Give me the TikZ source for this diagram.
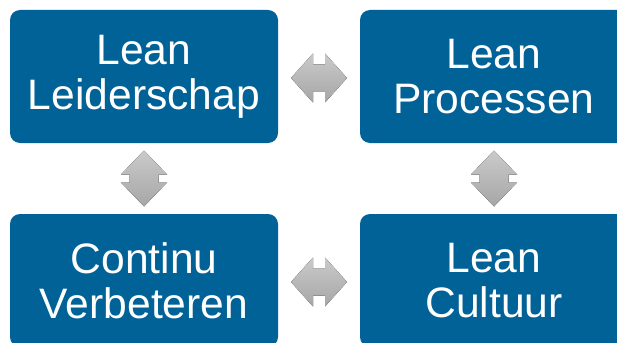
\documentclass[tikz,border=0pt]{standalone}
\usepackage{fontspec}
\setmainfont{Liberation Sans}
\usetikzlibrary{calc}
\definecolor{boxblue}{RGB}{0,98,151}
\definecolor{arrtop}{RGB}{202,202,202}
\definecolor{arrbot}{RGB}{166,166,166}
\tikzset{
  box/.style={rectangle, rounded corners=10pt, fill=boxblue, text=white,
    minimum width=268pt, minimum height=133pt, inner sep=0pt, align=center,
    font=\fontsize{42.6pt}{45pt}\selectfont},
  grayarrow/.style={top color=arrtop, bottom color=arrbot, draw=none}
}
\begin{document}
\begin{tikzpicture}[x=1pt,y=-1pt]
\useasboundingbox (0,0) rectangle (617,342);
\clip (0,0) rectangle (617,342);
\node[box] (ll) at (144,76.5) {Lean\\Leiderschap};
\node[box] (lp) at (494,76.5) {Lean\\Processen};
\node[box] (cv) at (144,280.5) {Continu\\Verbeteren};
\node[box] (lc) at (494,280.5) {Lean\\Cultuur};
% horizontal double arrows
\foreach \a/\b in {ll/lp, cv/lc}{
  \coordinate (m) at ($(\a.east)!0.5!(\b.west)+(0,1.5)$);
  \fill[grayarrow, shift={(m)}] (-28,0) -- (-6,-24.5) -- (-6,-13.5) -- (6,-13.5) -- (6,-24.5)
     -- (28,0) -- (6,24.5) -- (6,13.5) -- (-6,13.5) -- (-6,24.5) -- cycle;
}
% vertical double arrows
\foreach \a/\b in {ll/cv, lp/lc}{
  \coordinate (m) at ($(\a.south)!0.5!(\b.north)$);
  \fill[grayarrow, shift={(m)}] (0,-28) -- (23,-4) -- (14.5,-4) -- (14.5,4) -- (23,4)
     -- (0,28) -- (-23,4) -- (-14.5,4) -- (-14.5,-4) -- (-23,-4) -- cycle;
}
\end{tikzpicture}
\end{document}
